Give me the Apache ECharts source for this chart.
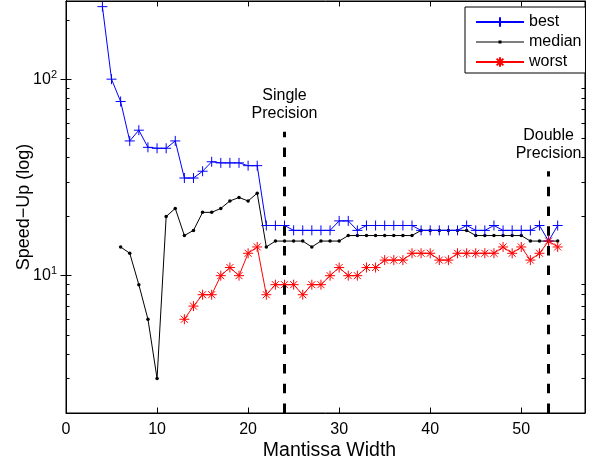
<!DOCTYPE html>
<html>
<head>
<meta charset="utf-8">
<script src="https://cdn.jsdelivr.net/npm/echarts@6/dist/echarts.min.js"></script>
<style>
    html, body { margin: 0; padding: 0; background: #fff; }
    #chart { width: 602px; height: 466px; }
</style>
</head>
<body>
<div id="chart"></div>
<script>
var fontFamily = '"Liberation Sans", Arial, sans-serif';

// mantissa width 4..54
var widths = [4, 5, 6, 7, 8, 9, 10, 11, 12, 13, 14, 15, 16, 17, 18, 19, 20, 21, 22, 23,
    24, 25, 26, 27, 28, 29, 30, 31, 32, 33, 34, 35, 36, 37, 38, 39, 40, 41, 42, 43,
    44, 45, 46, 47, 48, 49, 50, 51, 52, 53, 54];

var best = [234, 100, 77, 48.5, 55, 45, 44.5, 44.5, 48.5, 31.4, 31.4, 34, 38, 37.5, 37.5, 37.5, 36.3, 36.3, 18, 18,
    18, 17, 17, 17, 17, 17, 19, 19, 17, 18, 18, 18, 18, 18, 18, 17, 17, 17, 17, 17,
    18, 17, 17, 18, 17, 17, 17, 17, 18, 15, 18];

var median = ['-', '-', 14, 13, 9, 6, 3, 20, 22, 16, 17, 21, 21, 22, 24, 25, 24, 26.3, 14, 15,
    15, 15, 15, 14, 15, 15, 15, 16, 16, 16, 16, 16, 16, 16, 16, 17, 17, 17, 17, 17,
    17, 16, 16, 16, 16, 16, 16, 15, 15, 15, 15];

var worst = ['-', '-', '-', '-', '-', '-', '-', '-', '-', 6, 7, 8, 8, 10, 11, 10, 13, 14, 8, 9,
    9, 9, 8, 9, 9, 10, 11, 10, 10, 11, 11, 12, 12, 12, 13, 13, 13, 12, 12, 13,
    13, 13, 13, 13, 14, 13, 14, 12, 13, 15, 14];

// axes
var xTicks = [0, 10, 20, 30, 40, 50];
var yMajor = [10, 100];
var yMinor = [2, 3, 4, 5, 6, 7, 8, 9, 20, 30, 40, 50, 60, 70, 80, 90, 200];

// dashed precision markers: [x, top of line]
var singleMark = [24, 54];
var doubleMark = [53, 34];

var pairs = function (ys) {
    return widths.map(function (w, i) { return [w, ys[i]]; });
};

var plusSymbol = 'path://M0,-1L0,1M-1,0L1,0';
var starSymbol = 'path://M0,-1L0,1M-1,0L1,0M-0.7,-0.7L0.7,0.7M-0.7,0.7L0.7,-0.7';
// line with a small dot, for the median legend entry
var dotLineIcon = 'path://M0,5.5L48,5.5L48,6.5L0,6.5ZM22.5,4.5L25.5,4.5L25.5,7.5L22.5,7.5Z';

var markLineFor = function (mark, text) {
    return {
        silent: true,
        symbol: 'none',
        animation: false,
        lineStyle: { color: '#000', width: 3, type: [9.5, 10.2] },
        label: {
            show: true,
            position: 'end',
            distance: 9,
            formatter: text,
            color: '#000',
            fontSize: 16,
            lineHeight: 18,
            fontFamily: fontFamily
        },
        data: [[{ coord: [mark[0], 2] }, { coord: [mark[0], mark[1]] }]]
    };
};

// log y axes: one for the box side with major ticks, one overlaid for minor ticks
var logAxis = function (pos, ticks, len) {
    return {
        type: 'log',
        position: pos,
        min: 2,
        max: 250,
        logBase: 10,
        axisLine: { show: true, lineStyle: { color: '#000', width: 1 } },
        axisTick: { show: true, inside: true, length: len, customValues: ticks, lineStyle: { color: '#000' } },
        axisLabel: { show: false },
        splitLine: { show: false },
        minorTick: { show: false }
    };
};

var yLeft = logAxis('left', yMajor, 5.5);
yLeft.name = 'Speed\u2212Up (log)';
yLeft.nameLocation = 'middle';
yLeft.nameGap = 32.5;
yLeft.nameMoveOverlap = false;
yLeft.nameTextStyle = { color: '#000', fontSize: 18, fontFamily: fontFamily };
yLeft.axisLabel = {
    show: true,
    customValues: yMajor,
    margin: 9,
    formatter: function (v) {
        return '{b|10}{s|' + Math.round(Math.log10(v)) + '}';
    },
    rich: {
        b: { color: '#000', fontSize: 16, fontFamily: fontFamily },
        s: { color: '#000', fontSize: 11, fontFamily: fontFamily, verticalAlign: 'bottom', padding: [0, 0, 9, 0] }
    }
};

var chart = echarts.init(document.getElementById('chart'));

var option = {
    animation: false,
    backgroundColor: '#fff',
    textStyle: { fontFamily: fontFamily },
    grid: {
        left: 66, right: 17, top: 1, bottom: 51,
        show: true, borderColor: '#000', borderWidth: 1,
        containLabel: false
    },
    legend: {
        left: 465,
        top: 7,
        orient: 'vertical',
        backgroundColor: '#fff',
        borderColor: '#000',
        borderWidth: 1,
        padding: [7, 4, 3, 10],
        itemWidth: 48,
        itemHeight: 12,
        itemGap: 4,
        textStyle: { color: '#000', fontSize: 16, fontFamily: fontFamily },
        data: ['best', { name: 'median', icon: dotLineIcon }, 'worst']
    },
    xAxis: [
        {
            type: 'value',
            min: 0,
            max: 57,
            interval: 10,
            name: 'Mantissa Width',
            nameLocation: 'middle',
            nameGap: 28,
            nameMoveOverlap: false,
            nameTextStyle: { color: '#000', fontSize: 19.5, fontFamily: fontFamily, padding: [0, 0, 0, 8] },
            axisLine: { show: true, onZero: false, lineStyle: { color: '#000', width: 1 } },
            axisTick: { show: true, inside: true, length: 5.5, customValues: xTicks, lineStyle: { color: '#000' } },
            axisLabel: { color: '#000', fontSize: 16, margin: 9, customValues: xTicks, fontFamily: fontFamily },
            splitLine: { show: false }
        },
        {
            type: 'value',
            position: 'top',
            min: 0,
            max: 57,
            interval: 10,
            axisLine: { show: true, onZero: false, lineStyle: { color: '#000', width: 1 } },
            axisTick: { show: true, inside: true, length: 5.5, customValues: xTicks, lineStyle: { color: '#000' } },
            axisLabel: { show: false },
            splitLine: { show: false }
        }
    ],
    yAxis: [
        yLeft,
        logAxis('right', yMajor, 5.5),
        logAxis('left', yMinor, 3.5),
        logAxis('right', yMinor, 3.5)
    ],
    series: [
        {
            name: 'best',
            type: 'line',
            data: pairs(best),
            symbol: plusSymbol,
            symbolSize: 10,
            showAllSymbol: true,
            lineStyle: { color: '#0000ff', width: 1 },
            itemStyle: { color: '#0000ff', borderColor: '#0000ff', borderWidth: 1 },
            markLine: markLineFor(singleMark, 'Single\nPrecision'),
            z: 3
        },
        {
            name: 'median',
            type: 'line',
            data: pairs(median),
            symbol: 'circle',
            symbolSize: 3.5,
            showAllSymbol: true,
            connectNulls: false,
            lineStyle: { color: '#000', width: 1 },
            itemStyle: { color: '#000', borderWidth: 0 },
            markLine: markLineFor(doubleMark, 'Double\nPrecision'),
            z: 2
        },
        {
            name: 'worst',
            type: 'line',
            data: pairs(worst),
            symbol: starSymbol,
            symbolSize: 10,
            showAllSymbol: true,
            lineStyle: { color: '#ff0000', width: 1 },
            itemStyle: { color: '#ff0000', borderColor: '#ff0000', borderWidth: 1 },
            z: 4
        }
    ]
};

chart.setOption(option);
</script>
</body>
</html>
